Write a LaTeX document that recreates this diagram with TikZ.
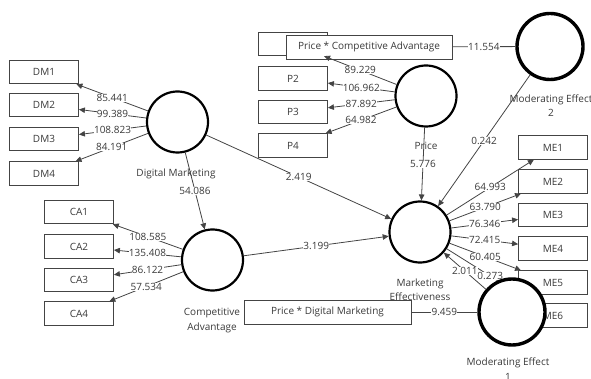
\documentclass[tikz,border=0pt]{standalone}
\usepackage{fontspec}
\setmainfont{Open Sans}
\usetikzlibrary{arrows.meta}
\definecolor{txt}{HTML}{3A3A3A}
\definecolor{ln}{HTML}{444444}
\begin{document}
\begin{tikzpicture}[x=1pt,y=-1pt,
  font=\fontsize{10}{12}\selectfont,
  ind/.style={draw=ln,line width=0.8pt,fill=white,minimum width=69pt,minimum height=23.5pt,inner sep=0pt,text=txt},
  lat/.style={circle,draw=black,line width=2.2pt,fill=white,minimum size=61pt,inner sep=0pt},
  mod/.style={circle,draw=black,line width=3.4pt,fill=white,minimum size=66pt,inner sep=0pt},
  lbl/.style={fill=white,inner sep=0.3pt,text=txt},
  nm/.style={text=txt,align=center,font=\fontsize{10}{14.5}\selectfont},
  conn/.style={draw=ln,line width=0.8pt,-{Triangle[length=6pt,width=5.5pt]}},
  plain/.style={draw=ln,line width=0.8pt}]
\useasboundingbox (0,0) rectangle (591,379);
% indicator boxes
\node[ind] (DM1) at (44,72) {DM1};
\node[ind] (DM2) at (44,105) {DM2};
\node[ind] (DM3) at (44,139) {DM3};
\node[ind] (DM4) at (44,173.5) {DM4};
\node[ind] (CA1) at (79,212) {CA1};
\node[ind] (CA2) at (79,246.5) {CA2};
\node[ind] (CA3) at (79,280) {CA3};
\node[ind] (CA4) at (79,313.5) {CA4};
\node[ind] (P1) at (293,44) {};
\node[ind] (P2) at (293,78.5) {P2};
\node[ind] (P3) at (293,112) {P3};
\node[ind] (P4) at (293,145.5) {P4};
\node[ind] (ME1) at (553,147.5) {ME1};
\node[ind] (ME2) at (553,181.5) {ME2};
\node[ind] (ME3) at (553,215) {ME3};
\node[ind] (ME4) at (553,248.5) {ME4};
\node[ind] (ME5) at (553,282.5) {ME5};
\node[ind] (ME6) at (553,315.5) {ME6};
\node[ind,minimum width=166pt,minimum height=24pt] (PCA) at (369,47) {Price * Competitive Advantage};
% latent variables
\node[lat] (DM) at (177.5,122) {};
\node[lat] (PR) at (426,96) {};
\node[lat] (ME) at (420,232) {};
\node[lat] (CA) at (212.5,260) {};
\node[mod] (MO2) at (550,46.5) {};
% names
\node[nm] (nDM) at (176,174) {Digital Marketing};
\node[nm] (nPR) at (426,146) {Price};
\node[nm] (nME) at (420,289.5) {Marketing\\Effectiveness};
\node[nm] (nCA) at (212,320.5) {Competitive\\Advantage};
\node[nm] (nMO2) at (551,105.5) {Moderating Effect\\2};
\node[nm] (nMO1) at (508,369) {Moderating Effect\\1};
% loadings
\draw[conn] (DM) -- node[lbl] {85.441} (DM1);
\draw[conn] (DM) -- node[lbl] {99.389} (DM2);
\draw[conn] (DM) -- node[lbl] {108.823} (DM3);
\draw[conn] (DM) -- node[lbl] {84.191} (DM4);
\draw[conn] (CA) -- node[lbl] {108.585} (CA1);
\draw[conn] (CA) -- node[lbl] {135.408} (CA2);
\draw[conn] (CA) -- node[lbl] {86.122} (CA3);
\draw[conn] (CA) -- node[lbl] {57.534} (CA4);
\draw[conn] (PR) -- node[lbl] {89.229} (P1);
\draw[conn] (PR) -- node[lbl] {106.962} (P2);
\draw[conn] (PR) -- node[lbl] {87.892} (P3);
\draw[conn] (PR) -- node[lbl] {64.982} (P4);
\draw[conn] (ME) -- node[lbl] {64.993} (ME1);
\draw[conn] (ME) -- node[lbl] {63.790} (ME2);
\draw[conn] (ME) -- node[lbl] {76.346} (ME3);
\draw[conn] (ME) -- node[lbl] {72.415} (ME4);
\draw[conn] (ME) -- node[lbl] {60.405} (ME5);
\draw[conn] (ME) -- node[lbl] {0.273} (ME6);
% structural paths
\draw[conn] (DM) -- node[lbl] {54.086} (CA);
\draw[conn] (DM) -- node[lbl] {2.419} (ME);
\draw[conn] (CA) -- node[lbl] {3.199} (ME);
\draw[conn] (PR) -- node[lbl] {5.776} (ME);
\draw[conn] (MO2) -- node[lbl] {0.242} (ME);
\draw[plain] (PCA) -- node[lbl] {11.554} (MO2);
% moderating effect 1
\node[ind,minimum width=167pt,minimum height=24pt] (PDM) at (327.5,312) {Price * Digital Marketing};
\node[mod] (MO1) at (512,312) {};
\draw[conn] (MO1) -- node[lbl] {2.011} (ME);
\draw[plain] (PDM) -- node[lbl] {9.459} (MO1);
\end{tikzpicture}
\end{document}
